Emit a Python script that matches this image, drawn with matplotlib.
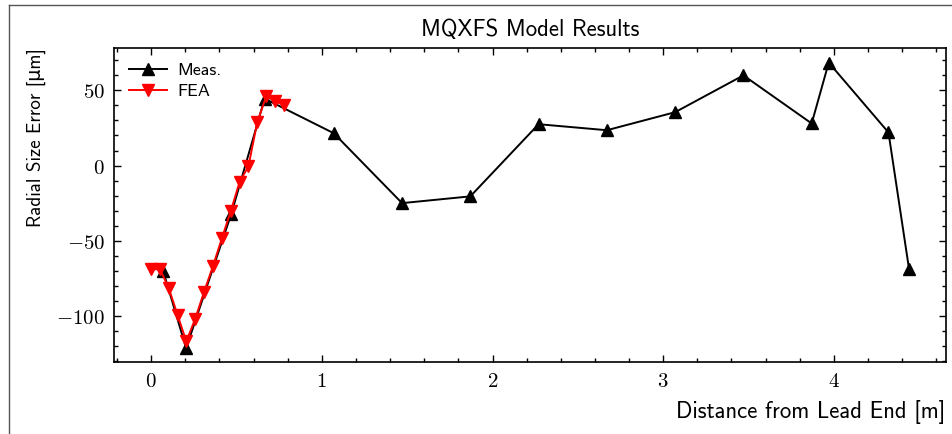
import matplotlib
matplotlib.use("Agg")
import matplotlib.pyplot as plt
from matplotlib.ticker import MultipleLocator, FuncFormatter
from matplotlib.lines import Line2D

# ---- data ----
meas_x = [0.07, 0.205, 0.47, 0.665, 1.07, 1.47, 1.87, 2.27, 2.67, 3.07, 3.47, 3.87, 3.97, 4.32, 4.44]
meas_y = [-70, -121.5, -32, 44.5, 21.5, -25, -20.5, 27.5, 23.5, 35.5, 60, 28, 68.5, 22, -68.5]

fea_x = [0.0, 0.052, 0.103, 0.155, 0.206, 0.258, 0.31, 0.362, 0.414, 0.466,
         0.518, 0.57, 0.622, 0.674, 0.726, 0.778]
fea_y = [-69, -69, -81.5, -99.5, -117, -102, -84, -67, -48.5, -30.5,
         -11, -0.5, 29, 46, 43, 40]

title = "MQXFS Model Results"
xlabel = "Distance from Lead End [m]"
ylabel = "Radial Size Error [μm]"
legend_labels = ["Meas.", "FEA"]

# ---- style ----
plt.rcParams['mathtext.fontset'] = 'cm'
sans = ['cmss10', 'DejaVu Sans']

fig = plt.figure(figsize=(9.53, 4.34), dpi=100)
ax = fig.add_axes([0.1201, 0.1666, 0.9923 - 0.1201, 0.8887 - 0.1666])

ax.plot(meas_x, meas_y, color='black', marker='^', markersize=8, linewidth=1.4,
        label=legend_labels[0])
ax.plot(fea_x, fea_y, color='red', marker='v', markersize=8.5, linewidth=1.4,
        label=legend_labels[1])

ax.set_xlim(-0.215, 4.655)
ax.set_ylim(-130.5, 78)

ax.xaxis.set_major_locator(MultipleLocator(1))
ax.xaxis.set_minor_locator(MultipleLocator(0.2))
ax.yaxis.set_major_locator(MultipleLocator(50))
ax.yaxis.set_minor_locator(MultipleLocator(10))
fmt = FuncFormatter(lambda v, p: f"${v:g}$")
ax.xaxis.set_major_formatter(fmt)
ax.yaxis.set_major_formatter(fmt)

ax.tick_params(which='both', direction='in', top=True, right=True, width=1.0)
ax.tick_params(which='major', length=4.8, labelsize=15, pad=7)
ax.tick_params(which='minor', length=2.8)
for s in ax.spines.values():
    s.set_linewidth(1.2)

ax.set_title(title, fontsize=16.4, family=sans, pad=9)
ax.set_xlabel(xlabel, fontsize=16.4, family=sans, loc='right', labelpad=6)
ax.set_ylabel(ylabel, fontsize=13.7, family=sans, loc='top', labelpad=7)

ax.legend(loc='upper left', frameon=False, prop={'family': sans, 'size': 13},
          borderaxespad=0.4, borderpad=0.4, handlelength=2.1,
          handletextpad=0.6, labelspacing=0.3)

# outer frame lines of the screenshot
fig.add_artist(Line2D([9/953, 9/953], [0, 1 - 5/434], transform=fig.transFigure,
                      color='#555555', linewidth=1.0))
fig.add_artist(Line2D([9/953, 1], [1 - 5/434, 1 - 5/434], transform=fig.transFigure,
                      color='#555555', linewidth=1.0))

fig.savefig('out.png', dpi=100)
